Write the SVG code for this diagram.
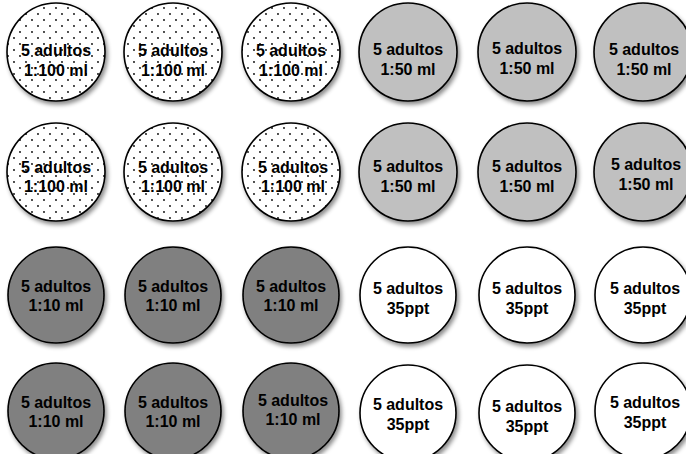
<svg xmlns="http://www.w3.org/2000/svg" width="686" height="454" viewBox="0 0 686 454">
<style>
.c{stroke:#000;stroke-width:1.6;filter:url(#sh)}
.dot{fill:url(#dots)}
.l50{fill:#c0c0c0}
.l10{fill:#808080}
.w{fill:#fff}
text{font-family:"Liberation Sans",Arial,sans-serif;font-weight:bold;font-size:16px;text-anchor:middle;fill:#000}
</style>
<defs>
<pattern id="dots" width="12" height="12" patternUnits="userSpaceOnUse">
<rect width="12" height="12" fill="#fff"/>
<circle cx="2" cy="2" r="0.9" fill="#000"/>
<circle cx="8" cy="8" r="0.9" fill="#000"/>
</pattern>
<filter id="sh" x="-20%" y="-20%" width="150%" height="150%">
<feDropShadow dx="2" dy="3" stdDeviation="2" flood-color="#000" flood-opacity="0.45"/>
</filter>
</defs>
<g id="r1c1"><circle class="c dot" cx="56" cy="52" r="49"/><text x="56" y="56">5 adultos</text><text x="56" y="76">1:100 ml</text></g>
<g id="r1c2"><circle class="c dot" cx="173" cy="52" r="49"/><text x="173" y="56">5 adultos</text><text x="173" y="76">1:100 ml</text></g>
<g id="r1c3"><circle class="c dot" cx="291" cy="52" r="49"/><text x="291" y="56">5 adultos</text><text x="291" y="76">1:100 ml</text></g>
<g id="r1c4"><circle class="c l50" cx="408" cy="52" r="49"/><text x="408" y="55">5 adultos</text><text x="408" y="75">1:50 ml</text></g>
<g id="r1c5"><circle class="c l50" cx="527" cy="52" r="49"/><text x="527" y="54">5 adultos</text><text x="527" y="74">1:50 ml</text></g>
<g id="r1c6"><circle class="c l50" cx="643" cy="52" r="49"/><text x="644" y="55">5 adultos</text><text x="644" y="75">1:50 ml</text></g>

<g id="r2c1"><circle class="c dot" cx="56" cy="172" r="49"/><text x="56" y="173">5 adultos</text><text x="56" y="192">1:100 ml</text></g>
<g id="r2c2"><circle class="c dot" cx="173" cy="172" r="49"/><text x="173" y="173">5 adultos</text><text x="173" y="192">1:100 ml</text></g>
<g id="r2c3"><circle class="c dot" cx="291" cy="172" r="49"/><text x="293" y="173">5 adultos</text><text x="293" y="192">1:100 ml</text></g>
<g id="r2c4"><circle class="c l50" cx="408" cy="172" r="49"/><text x="408" y="172">5 adultos</text><text x="408" y="192">1:50 ml</text></g>
<g id="r2c5"><circle class="c l50" cx="527" cy="172" r="49"/><text x="527" y="172">5 adultos</text><text x="527" y="192">1:50 ml</text></g>
<g id="r2c6"><circle class="c l50" cx="643" cy="172" r="49"/><text x="646" y="170">5 adultos</text><text x="646" y="190">1:50 ml</text></g>

<g id="r3c1"><circle class="c l10" cx="56" cy="295" r="48"/><text x="56" y="292">5 adultos</text><text x="56" y="311">1:10 ml</text></g>
<g id="r3c2"><circle class="c l10" cx="173" cy="295" r="48"/><text x="173" y="292">5 adultos</text><text x="173" y="311">1:10 ml</text></g>
<g id="r3c3"><circle class="c l10" cx="291" cy="295" r="48"/><text x="291" y="292">5 adultos</text><text x="291" y="311">1:10 ml</text></g>
<g id="r3c4"><circle class="c w" cx="408" cy="295" r="48"/><text x="408" y="294">5 adultos</text><text x="408" y="314">35ppt</text></g>
<g id="r3c5"><circle class="c w" cx="527" cy="295" r="48"/><text x="527" y="294">5 adultos</text><text x="527" y="314">35ppt</text></g>
<g id="r3c6"><circle class="c w" cx="643" cy="295" r="48"/><text x="645" y="294">5 adultos</text><text x="645" y="314">35ppt</text></g>

<g id="r4c1"><circle class="c l10" cx="56" cy="411" r="48"/><text x="56" y="408">5 adultos</text><text x="56" y="427">1:10 ml</text></g>
<g id="r4c2"><circle class="c l10" cx="173" cy="411" r="48"/><text x="173" y="408">5 adultos</text><text x="173" y="427">1:10 ml</text></g>
<g id="r4c3"><circle class="c l10" cx="291" cy="411" r="48"/><text x="293" y="406">5 adultos</text><text x="293" y="425">1:10 ml</text></g>
<g id="r4c4"><circle class="c w" cx="408" cy="413" r="48"/><text x="408" y="410">5 adultos</text><text x="408" y="430">35ppt</text></g>
<g id="r4c5"><circle class="c w" cx="527" cy="413" r="48"/><text x="527" y="412">5 adultos</text><text x="527" y="432">35ppt</text></g>
<g id="r4c6"><circle class="c w" cx="643" cy="411" r="48"/><text x="645" y="408">5 adultos</text><text x="645" y="428">35ppt</text></g>
<g id="connectors"/>
</svg>
